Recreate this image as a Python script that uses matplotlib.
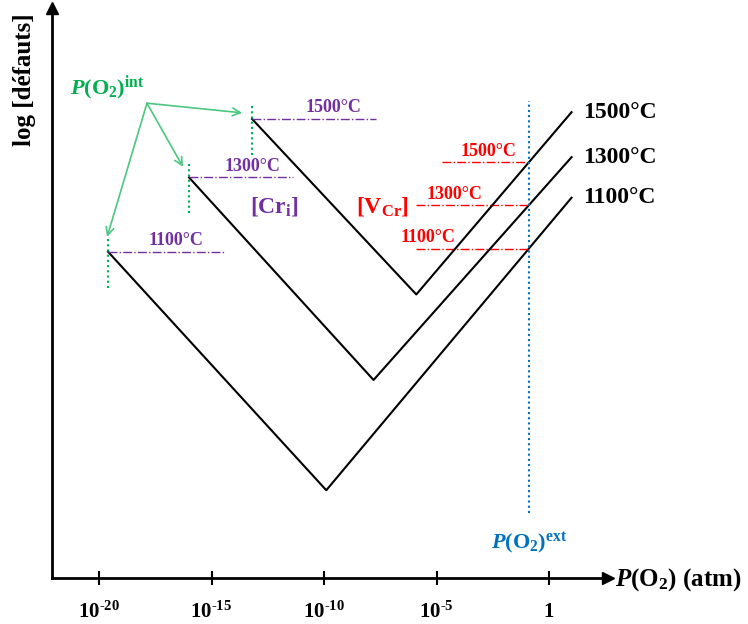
import matplotlib.pyplot as plt
import numpy as np

plt.rcParams['font.family'] = ['Liberation Serif', 'DejaVu Serif']
plt.rcParams['font.weight'] = 'bold'
plt.rcParams['mathtext.fontset'] = 'custom'
plt.rcParams['mathtext.rm'] = 'Liberation Serif:bold'
plt.rcParams['mathtext.bf'] = 'Liberation Serif:bold'
plt.rcParams['mathtext.it'] = 'Liberation Serif:bold:italic'

# données (x = log P(O2), y = log [défauts], unités arbitraires)
temperatures = ['1100°C', '1300°C', '1500°C']
x_int = [-19.6, -16.0, -13.2]      # P(O2)^int
y_int = [14.5, 17.8, 20.4]
x_min = [-9.9, -7.8, -5.9]
y_min = [3.9, 8.8, 12.6]
x_end = [1.0, 1.0, 1.0]
y_end = [16.9, 18.7, 20.7]
x_ext = -0.9                        # P(O2)^ext
purple_end = [-14.4, -11.4, -7.7]
red_start = [-5.9, -5.9, -4.75]
xticks = [-20, -15, -10, -5, 0]
xtick_labels = ['10$^{\\mathregular{\u201020}}$', '10$^{\\mathregular{\u201015}}$',
                '10$^{\\mathregular{\u201010}}$', '10$^{\\mathregular{\u20105}}$', '1']

# position des étiquettes
purple_lab_x = [-16.6, -13.2, -9.6]
red_lab_x = [-5.4, -4.2, -2.7]
arrow_tip_x = [-19.64, -16.27, -13.64]
arrow_tip_y = [15.16, 18.27, 20.67]

purple = '#7030A0'
red = '#FF0000'
green = '#00B050'
lgreen = '#4CC77E'
blue = '#0070C0'

fig = plt.figure(figsize=(7.48, 6.24), dpi=100)
ax = fig.add_axes([52 / 748, 46 / 624, 556 / 748, 570 / 624])
ax.set_xlim(-22.09, 2.62)
ax.set_ylim(0, 25.33)

for s in ['top', 'right']:
    ax.spines[s].set_visible(False)
for s in ['left', 'bottom']:
    ax.spines[s].set_linewidth(2)
ax.plot(1, 0, '>k', ms=8, transform=ax.transAxes, clip_on=False)
ax.plot(0, 1, '^k', ms=8, transform=ax.transAxes, clip_on=False)

ax.set_xticks(xticks)
ax.set_xticklabels(xtick_labels, fontsize=15)
ax.tick_params(axis='x', direction='inout', length=10, width=1.5, pad=12)
ax.set_yticks([])

for i in range(3):
    xs = [x_int[i], x_min[i], x_end[i]]
    ys = [y_int[i], y_min[i], y_end[i]]
    ax.plot(xs, ys, color='black', lw=1.5)
    ax.text(x_end[i] + 0.5, y_end[i], temperatures[i], fontsize=17,
            ha='left', va='center')

    # P(O2)^int
    ax.plot([x_int[i], x_int[i]], [y_int[i] - 1.6, y_int[i] + 0.7],
            color=green, lw=1.5, ls=(0, (1, 1.5)))
    ax.plot([x_int[i], purple_end[i]], [y_int[i], y_int[i]],
            color=purple, lw=1, ls='-.')
    ax.text(purple_lab_x[i], y_int[i] + 0.5, temperatures[i], fontsize=13,
            color=purple, ha='center', va='center')

    # P(O2)^ext
    y_cross = np.interp(x_ext, [x_min[i], x_end[i]], [y_min[i], y_end[i]])
    ax.plot([red_start[i], x_ext], [y_cross, y_cross], color=red, lw=1, ls='-.')
    ax.text(red_lab_x[i], y_cross + 0.5, temperatures[i], fontsize=13,
            color=red, ha='center', va='center')

ax.plot([x_ext, x_ext], [2.9, 21.2], color=blue, lw=1.5, ls=(0, (1, 1.5)))
ax.text(x_ext, 1.55, r'$P$(O$_2$)$^{\mathregular{ext}}$', fontsize=16,
        color=blue, ha='center', va='center')

ax.text(-19.65, 21.8, r'$P$(O$_2$)$^{\mathregular{int}}$', fontsize=16,
        color=green, ha='center', va='center')
src = (-17.87, 21.1)
for i in range(3):
    ax.annotate('', xy=(arrow_tip_x[i], arrow_tip_y[i]), xytext=src,
                arrowprops=dict(arrowstyle='->', color=lgreen, lw=1.2,
                                mutation_scale=14, shrinkA=0, shrinkB=0))

ax.text(-12.2, 16.5, r'[Cr$_{\mathregular{i}}$]', fontsize=17, color=purple,
        ha='center', va='center')
ax.text(-7.4, 16.5, r'[V$_{\mathregular{Cr}}$]', fontsize=17, color=red,
        ha='center', va='center')

fig.text(615 / 748, 1 - 580 / 624, r'$P$(O$_2$) (atm)', fontsize=18,
         ha='left', va='center')
fig.text(24 / 748, 1 - 80 / 624, 'log [défauts]', fontsize=18, rotation=90,
         ha='center', va='center')

fig.savefig('out.png', dpi=100)
